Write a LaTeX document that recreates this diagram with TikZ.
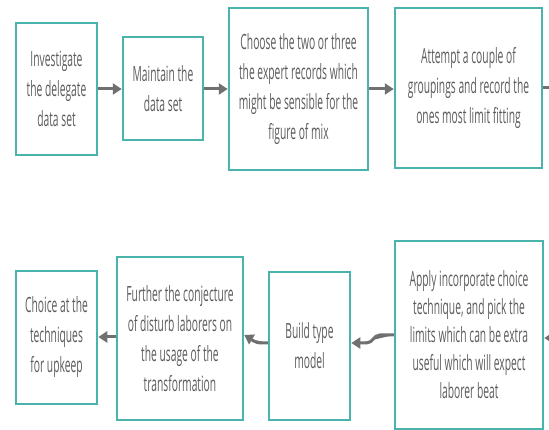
\documentclass[tikz,border=0pt]{standalone}
\usepackage{fontspec}
\setmainfont{Open Sans}[FakeStretch=0.49]
\usepackage{tikz}
\usetikzlibrary{arrows.meta}
\definecolor{boxteal}{HTML}{4AB3AC}
\definecolor{txtgray}{HTML}{5C5C5C}
\definecolor{arrgray}{HTML}{707070}

\begin{document}
\begin{tikzpicture}[x=1pt, y=-1pt, >={Triangle[length=9pt,width=11pt]},
    main/.style = {draw=boxteal, line width=2.5pt, rectangle, inner sep=0pt, align=center,
                   text=txtgray, font=\fontsize{21}{30}\selectfont},
    link/.style = {->, draw=arrgray, fill=arrgray, line width=3pt}]
    \useasboundingbox (0,0) rectangle (549,430);
    \clip (0,0) rectangle (549,430);
    % Nodes

    \node[main, minimum width=81pt, minimum height=132pt] (1) at (56.5, 89) {Investigate\\the delegate\\data set};
    \node[main, minimum width=80pt, minimum height=103pt] (2) at (163, 88.5) {Maintain the\\data set};
    \node[main, minimum width=139pt, minimum height=162pt] (3) at (298.5, 89) {Choose the two or three\\the expert records which\\might be sensible for the\\figure of mix};
    \node[main, minimum width=147pt, minimum height=160pt] (4) at (468.5, 88) {Attempt a couple of\\groupings and record the\\ones most limit fitting};
    \node[main, minimum width=148pt, minimum height=188pt, font=\fontsize{21}{28}\selectfont] (5) at (469, 335) {Apply incorporate choice\\technique, and pick the\\limits which can be extra\\useful which will expect\\laborer beat};
    \node[main, minimum width=81pt, minimum height=148pt] (6) at (309.5, 346) {Build type\\model};
    \node[main, minimum width=126pt, minimum height=163pt] (7) at (180, 338.5) {Further the conjecture\\of disturb laborers on\\the usage of the\\transformation};
    \node[main, minimum width=81pt, minimum height=133pt] (8) at (56.5, 337.5) {Choice at the\\techniques\\for upkeep};
    \coordinate (out) at (560, 88);
    \coordinate (in) at (560, 338);

    % Edges
    \draw[link] (1.east |- 0,89) -- (2.west |- 0,89);
    \draw[link] (2.east |- 0,89) -- (3.west |- 0,89);
    \draw[link] (3.east |- 0,89) -- (4.west |- 0,89);
    \draw[draw=arrgray, line width=3pt] (4.east) -- (out);
    \draw[link] (in) -- (5.east |- in);
    \draw[link] (5.west) -- ++(-14,0) to[out=180, in=0] ++(-13,8) -- (6.east |- 0,343);
    \draw[link] ([yshift=3pt]6.west) -- ++(-6,0) to[out=180, in=-30] (7.east |- 0,335);
    \draw[link] (7.west |- 0,337) -- (8.east |- 0,337);

\end{tikzpicture}
\end{document}
